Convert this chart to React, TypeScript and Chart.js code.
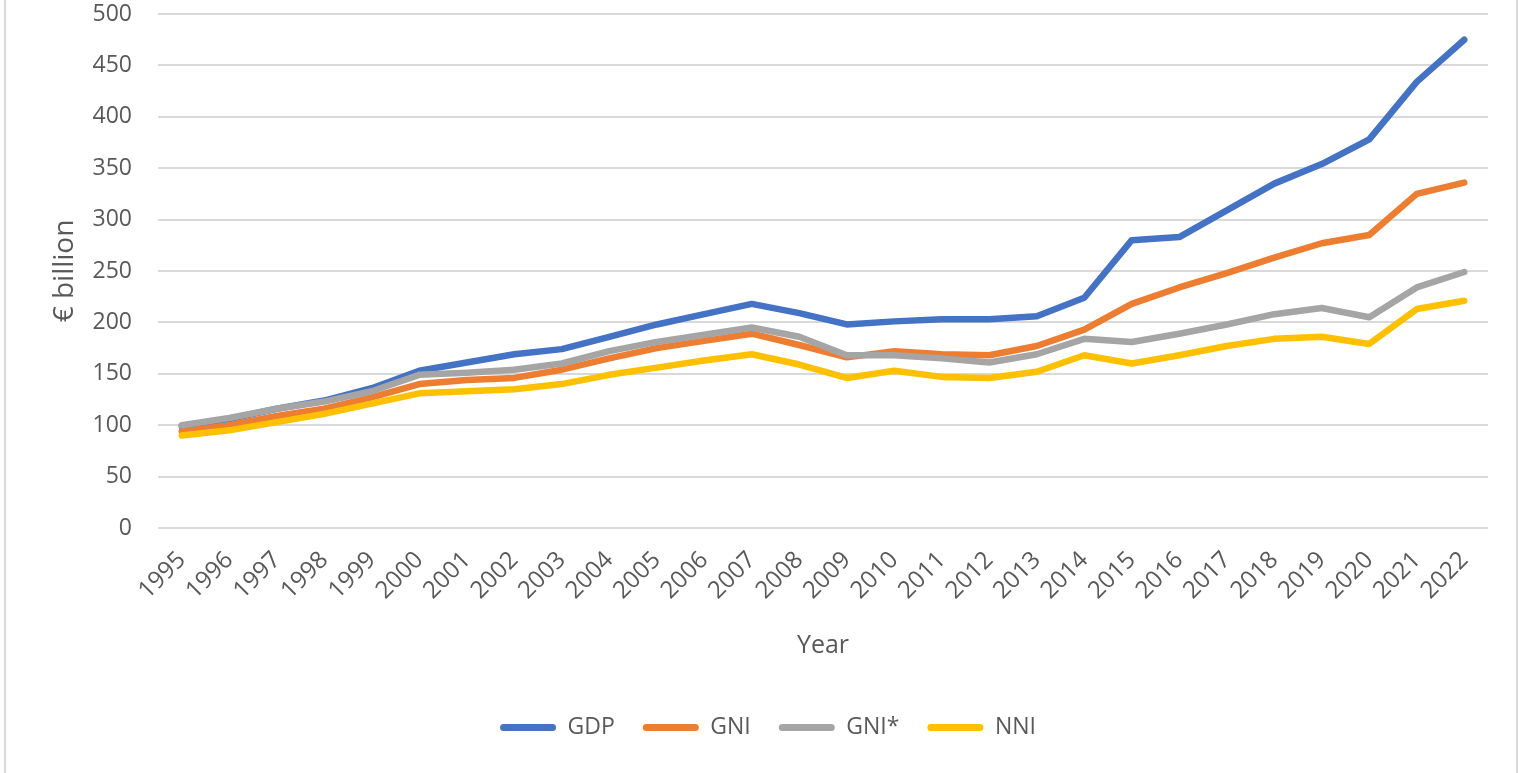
import React, { useEffect, useRef } from "react";
import { Chart, registerables } from "chart.js";

Chart.register(...registerables);

const years = ["1995","1996","1997","1998","1999","2000","2001","2002","2003","2004","2005","2006","2007","2008","2009","2010","2011","2012","2013","2014","2015","2016","2017","2018","2019","2020","2021","2022"];
const gdp = [99, 106, 116, 124, 136, 153, 161, 169, 174, 186, 198, 208, 218, 209, 198, 201, 203, 203, 206, 224, 280, 283, 309, 335, 354, 378, 434, 475];
const gni = [94, 100, 109, 116, 127, 140, 144, 146, 154, 165, 175, 182, 189, 178, 166, 172, 169, 168, 177, 193, 218, 234, 248, 263, 277, 285, 325, 336];
const gniStar = [100, 107, 116, 123, 133, 149, 151, 154, 160, 172, 181, 188, 195, 186, 168, 168, 165, 161, 169, 184, 181, 189, 198, 208, 214, 205, 234, 249];
const nni = [90, 95, 103, 111, 121, 131, 133, 135, 140, 149, 156, 163, 169, 159, 146, 153, 147, 146, 152, 168, 160, 168, 177, 184, 186, 179, 213, 221];

const seriesNames = ["GDP", "GNI", "GNI*", "NNI"];
const seriesColors = ["#4472C4", "#ED7D31", "#A5A5A5", "#FFC000"];
const yTicks = [0, 50, 100, 150, 200, 250, 300, 350, 400, 450, 500];

const FONT = "'Open Sans', 'Noto Sans', sans-serif";
const TEXT = "#595959";

export default function App() {
  const ref = useRef<HTMLCanvasElement | null>(null);

  useEffect(() => {
    if (!ref.current) return;
    const values = [gdp, gni, gniStar, nni];
    const chart = new Chart(ref.current, {
      type: "line",
      data: {
        labels: years,
        datasets: values.map((v, i) => ({
          label: seriesNames[i],
          data: v,
          borderColor: seriesColors[i],
          backgroundColor: seriesColors[i],
          borderWidth: 6.5,
          borderCapStyle: "round" as const,
          borderJoinStyle: "round" as const,
          pointRadius: 0,
          pointHoverRadius: 0,
          tension: 0,
          order: 3 - i,
        })),
      },
      options: {
        responsive: false,
        animation: false,
        events: [],
        layout: { padding: { left: 48, right: 31, top: 14, bottom: 24 } },
        font: { family: FONT },
        plugins: {
          tooltip: { enabled: false },
          legend: {
            position: "bottom",
            labels: {
              color: TEXT,
              font: { family: FONT, size: 23 },
              boxWidth: 56,
              boxHeight: 7,
              padding: 28,
              useBorderRadius: true,
              borderRadius: 3.5,
              sort: (a: any, b: any) => a.datasetIndex - b.datasetIndex,
              generateLabels: (c: any) => {
                const base = Chart.defaults.plugins.legend.labels.generateLabels(c);
                return base.map((l: any) => ({
                  ...l,
                  fillStyle: l.strokeStyle,
                  lineWidth: 0,
                  lineCap: "butt",
                  lineDash: [],
                }));
              },
            },
          },
        },
        scales: {
          x: {
            offset: true,
            grid: { display: false, drawTicks: false },
            border: { display: false },
            ticks: {
              color: TEXT,
              font: { family: FONT, size: 24 },
              minRotation: 45,
              maxRotation: 45,
              autoSkip: false,
              padding: 18,
            },
            title: {
              display: true,
              text: "Year",
              color: TEXT,
              font: { family: FONT, size: 25 },
              padding: { top: 0, bottom: 27 },
            },
            afterFit: (s: any) => {
              s.height = 160;
            },
          },
          y: {
            min: 0,
            max: 500,
            afterBuildTicks: (s: any) => {
              s.ticks = yTicks.map((v) => ({ value: v }));
            },
            grid: { color: "#D9D9D9", lineWidth: 2, drawTicks: false },
            border: { display: false },
            ticks: {
              color: TEXT,
              font: { family: FONT, size: 23 },
              padding: 26,
            },
            title: {
              display: true,
              text: "€ billion",
              color: TEXT,
              font: { family: FONT, size: 28 },
              padding: { top: 0, bottom: 0 },
            },
            afterFit: (s: any) => {
              s.width = 110;
              s.paddingTop = 0;
              s.paddingBottom = 0;
            },
          },
        },
      },
    });
    return () => chart.destroy();
  }, []);

  return (
    <div style={{ position: "fixed", left: 0, top: 0, width: 1519, height: 773, background: "#fff", overflow: "hidden" }}>
      <div style={{ position: "absolute", left: 4, top: 0, width: 2, height: 773, background: "#D9D9D9" }} />
      <div style={{ position: "absolute", left: 1516, top: 0, width: 2, height: 773, background: "#D9D9D9" }} />
      <canvas ref={ref} width={1519} height={773} style={{ position: "absolute", left: 0, top: 0, width: 1519, height: 773 }} />
    </div>
  );
}
